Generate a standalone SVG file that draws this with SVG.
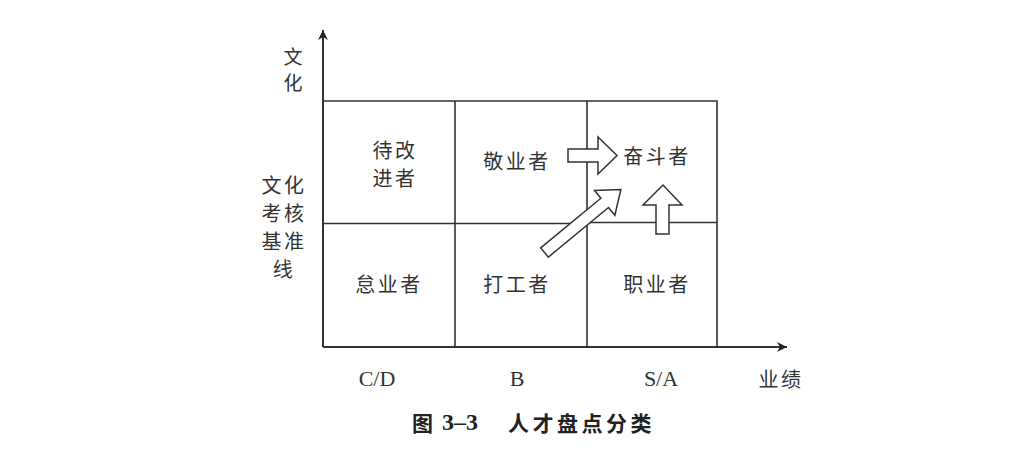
<svg xmlns="http://www.w3.org/2000/svg" width="1024" height="468" viewBox="0 0 1024 468">
<defs>
<style>
.ln{stroke:#333;stroke-width:1.6;fill:none}
.ar{fill:#fff;stroke:#333;stroke-width:1.5;stroke-linejoin:miter}
.cj{font-family:"Noto Sans CJK SC","Noto Sans CJK JP",sans-serif;font-size:20px;letter-spacing:2.5px;fill:#333;text-anchor:middle;dominant-baseline:central}
.lt{font-family:"Liberation Serif","Times New Roman",serif;font-size:22px;fill:#333;text-anchor:middle;dominant-baseline:central}
.cap{font-family:"Noto Sans CJK SC",sans-serif;font-size:21px;font-weight:bold;fill:#222;dominant-baseline:central}
</style>
<marker id="ah" viewBox="0 0 10 10" refX="10" refY="5" markerWidth="10" markerHeight="10" markerUnits="userSpaceOnUse" orient="auto">
<path d="M0,0 L10,5 L0,10 L3,5 Z" fill="#222"/>
</marker>
</defs>
<rect width="1024" height="468" fill="#fff"/>
<g id="connectors">
<line class="ln" x1="323" y1="347" x2="323" y2="30" marker-end="url(#ah)" style="stroke-width:2"/>
<line class="ln" x1="323" y1="347" x2="787" y2="347" marker-end="url(#ah)" style="stroke-width:2"/>
</g>
<g id="grid">
<polyline class="ln" points="323,101 717,101 717,347"/>
<line class="ln" x1="455" y1="101" x2="455" y2="347"/>
<line class="ln" x1="587" y1="101" x2="587" y2="347"/>
<line class="ln" x1="323" y1="223.5" x2="587" y2="223.5"/>
<line class="ln" x1="587" y1="222.5" x2="717" y2="222.5"/>
</g>
<g id="cell-daigaijin">
<text class="cj" x="395" y="149">待改<tspan x="395" dy="28">进者</tspan></text>
</g>
<g id="cell-jingye"><text class="cj" x="517" y="160">敬业者</text></g>
<g id="cell-fendou"><text class="cj" x="657" y="155">奋斗者</text></g>
<g id="cell-daiye"><text class="cj" x="389" y="283">怠业者</text></g>
<g id="cell-dagong"><text class="cj" x="517" y="283">打工者</text></g>
<g id="cell-zhiye"><text class="cj" x="657" y="283">职业者</text></g>
<g id="arrows">
<polygon class="ar" points="568,149 598,149 598,137 617,155.5 598,174 598,162 568,162"/>
<polygon class="ar" points="656,234 656,205 643,205 663,185 682,205 669,205 669,234"/>
<polygon class="ar" transform="translate(544.5,252.5) rotate(-39.5)" points="0,-6 78,-6 78,-16 99,0 78,16 78,6 0,6"/>
</g>
<g id="axis-labels">
<text class="cj" x="293" y="55" style="font-size:19px;letter-spacing:0">文<tspan x="293" dy="26">化</tspan></text>
<text class="cj" x="284" y="184">文化<tspan x="284" dy="28">考核</tspan><tspan x="284" dy="28">基准</tspan><tspan x="284" dy="28">线</tspan></text>
<text class="lt" x="377" y="378">C/D</text>
<text class="lt" x="517" y="378">B</text>
<text class="lt" x="661" y="378">S/A</text>
<text class="cj" x="781" y="378">业绩</text>
</g>
<g id="caption">
<text class="cap" x="412" y="422">图</text>
<text class="cap" x="442" y="422" style="font-family:'Liberation Serif',serif;font-size:24px">3–3</text>
<text class="cap" x="508" y="422" style="letter-spacing:3.5px">人才盘点分类</text>
</g>
</svg>
